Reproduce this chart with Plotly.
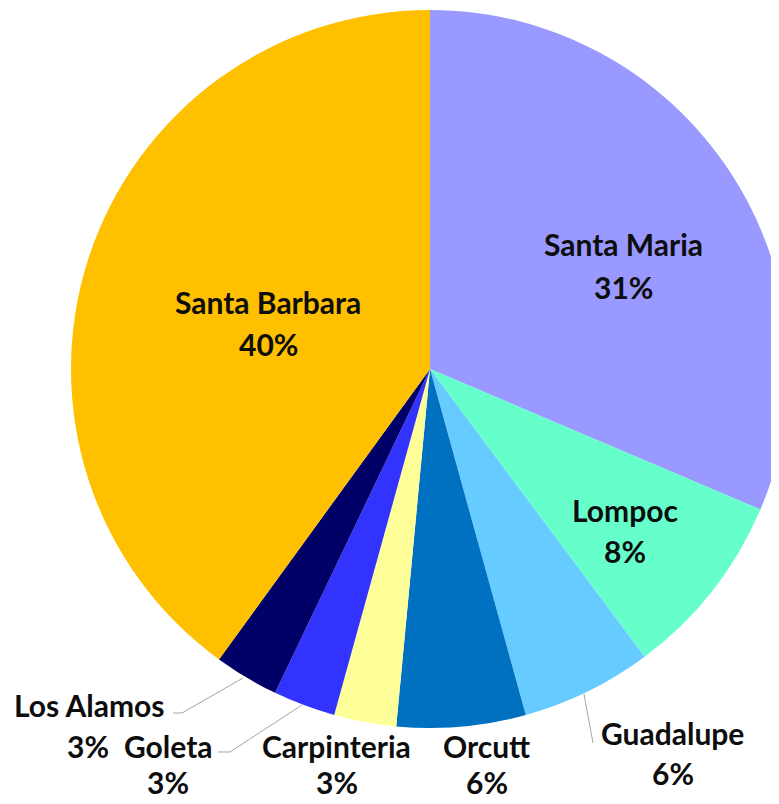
import plotly.graph_objects as go

# ---- data ----
cities = ["Santa Maria", "Lompoc", "Guadalupe", "Orcutt", "Carpinteria",
          "Goleta", "Los Alamos", "Santa Barbara"]
shares = [31.4, 8.4, 5.9, 5.8, 2.8, 2.8, 2.9, 40.0]
colors = ["#9999FF", "#66FFCC", "#66CCFF", "#0070C0", "#FFFF99",
          "#3333FF", "#000066", "#FFC000"]

# ---- layout geometry (pixels in the page) ----
OFF = 8            # page body margin
W, H = 790, 804
cx, cy, r = 430, 369, 359

# label centre positions in pixels: (name x, name y, pct x, pct y)
label_pos = {
    "Santa Maria":   (623, 244, 623, 287),
    "Lompoc":        (625, 510, 625, 551),
    "Guadalupe":     (672, 733, 673, 773),
    "Orcutt":        (486, 746, 487, 782),
    "Carpinteria":   (336, 746, 337, 782),
    "Goleta":        (168, 746, 168, 782),
    "Los Alamos":    (89, 705, 88, 746),
    "Santa Barbara": (268, 302, 268, 344),
}
leaders = [
    [(173, 713), (182, 713), (243, 678)],
    [(218, 752), (230, 752), (302, 705)],
    [(593, 743), (584, 694)],
]


def px(x):
    return (x - OFF) / W


def py(y):
    return 1 - (y - OFF) / H


fig = go.Figure(go.Pie(
    labels=cities, values=shares, sort=False, direction="clockwise",
    rotation=0, marker=dict(colors=colors, line=dict(width=0)),
    textinfo="none", showlegend=False,
    domain=dict(x=[px(cx - r), px(cx + r)], y=[py(cy + r), py(cy - r)]),
))

total = sum(shares)
font = dict(family="Lato", size=30, color="#0D0D0D", weight="bold")
annotations = []
for name, v in zip(cities, shares):
    nx, ny, qx, qy = label_pos[name]
    annotations.append(dict(x=px(nx), y=py(ny), xref="paper", yref="paper",
                            text=name, showarrow=False, font=font,
                            xanchor="center", yanchor="middle"))
    annotations.append(dict(x=px(qx), y=py(qy), xref="paper", yref="paper",
                            text=f"{round(v / total * 100)}%", showarrow=False,
                            font=font, xanchor="center", yanchor="middle"))

shapes = []
for pts in leaders:
    path = "M " + " L ".join(f"{px(x):.5f},{py(y):.5f}" for x, y in pts)
    shapes.append(dict(type="path", path=path, xref="paper", yref="paper",
                       line=dict(color="#A6A6A6", width=1)))

fig.update_layout(width=W, height=H, margin=dict(l=0, r=0, t=0, b=0),
                  paper_bgcolor="white", plot_bgcolor="white",
                  annotations=annotations, shapes=shapes)

fig.write_html("out.html")
